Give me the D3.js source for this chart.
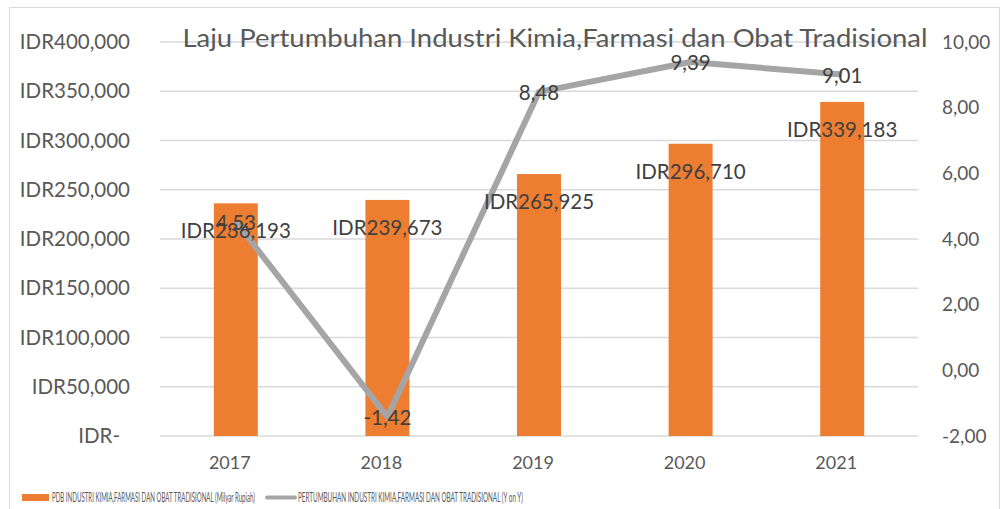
<!DOCTYPE html>
<html>
<head>
<meta charset="utf-8">
<script src="https://cdn.jsdelivr.net/npm/d3@7"></script>
<style>
  body { margin: 0; background: #fff; }
  svg text { font-family: Lato, "Open Sans", sans-serif; }
</style>
</head>
<body>
<svg id="chart" width="1002" height="509"></svg>
<script>
"use strict";

// data
const years      = [ '2017', '2018', '2019', '2020', '2021' ];
const pdbValues  = [ 236193, 239673, 265925, 296710, 339183 ];
const growth     = [ 4.53, -1.42, 8.48, 9.39, 9.01 ];
const leftTicks  = [ 0, 50000, 100000, 150000, 200000, 250000, 300000, 350000, 400000 ];
const rightTicks = [ -2, 0, 2, 4, 6, 8, 10 ];

const title      = 'Laju Pertumbuhan Industri Kimia,Farmasi dan Obat Tradisional';
const barName    = 'PDB INDUSTRI KIMIA,FARMASI DAN OBAT TRADISIONAL (Milyar Rupiah)';
const lineName   = 'PERTUMBUHAN INDUSTRI KIMIA,FARMASI DAN OBAT TRADISIONAL (Y on Y)';

const orange = '#ED7D31',
      grey   = '#A5A5A5',
      grid   = '#D9D9D9',
      txt    = '#595959',
      lbl    = '#404040';

// plot area
const plot = { left: 160, right: 918, top: 42, bottom: 436 };

const svg = d3.select('#chart');

// outer frame
svg.append('rect')
    .attr('x', 9.5).attr('y', 7.5)
    .attr('width', 990).attr('height', 520)
    .attr('fill', 'none')
    .attr('stroke', grid);

// scales
const x = d3.scaleBand()
    .domain(years)
    .range([plot.left, plot.right])
    .paddingInner(0.71)
    .paddingOuter(0.355);

const xc = d3.scaleBand().domain(years).range([plot.left, plot.right]);

const y = d3.scaleLinear()
    .domain([0, 400000])
    .range([plot.bottom, plot.top]);

const y2 = d3.scaleLinear()
    .domain([-2, 10])
    .range([plot.bottom, plot.top]);

const idr = (v) => v === 0 ? 'IDR-' : 'IDR' + d3.format(',')(v);
const comma2 = (v) => d3.format('.2f')(v).replace('.', ',').replace('−', '-');

// gridlines
svg.append('g')
  .selectAll('line')
    .data(leftTicks)
  .enter().append('line')
    .attr('x1', plot.left).attr('x2', plot.right)
    .attr('y1', (d) => y(d)).attr('y2', (d) => y(d))
    .attr('stroke', grid)
    .attr('stroke-width', 1.5);

// left axis
const yAxis = d3.axisLeft(y).tickValues(leftTicks).tickSize(0).tickPadding(0).tickFormat(idr);
const gl = svg.append('g')
    .attr('transform', 'translate(130,0)')
    .call(yAxis);
gl.select('.domain').remove();
gl.selectAll('text')
    .attr('fill', txt)
    .style('font-size', '20.5px')
    .attr('dx', (d) => d === 0 ? -10 : 0);

// right axis
const y2Axis = d3.axisRight(y2).tickValues(rightTicks).tickSize(0).tickPadding(0).tickFormat(comma2);
const gr = svg.append('g')
    .attr('transform', 'translate(942,0)')
    .call(y2Axis);
gr.select('.domain').remove();
gr.selectAll('text')
    .attr('fill', txt)
    .style('font-size', '19px');

// x axis
const xAxis = d3.axisBottom(xc).tickSize(0).tickPadding(0);
const gx = svg.append('g')
    .attr('transform', 'translate(0,' + (plot.bottom + 20) + ')')
    .call(xAxis);
gx.select('.domain').remove();
gx.selectAll('text')
    .attr('fill', txt)
    .attr('dx', -6)
    .style('font-size', '18px');

// title
svg.append('text')
    .attr('x', 555).attr('y', 47)
    .attr('text-anchor', 'middle')
    .attr('fill', txt)
    .style('font-size', '25px')
    .attr('textLength', 745)
    .attr('lengthAdjust', 'spacingAndGlyphs')
    .text(title);

// bars
svg.append('g')
  .selectAll('rect')
    .data(pdbValues)
  .enter().append('rect')
    .attr('x', (d, i) => x(years[i]))
    .attr('width', x.bandwidth())
    .attr('y', (d) => y(d))
    .attr('height', (d) => plot.bottom - y(d))
    .attr('fill', orange);

// line
const line = d3.line()
    .x((d, i) => xc(years[i]) + xc.bandwidth() / 2)
    .y((d) => y2(d));

svg.append('path')
    .datum(growth)
    .attr('d', line)
    .attr('fill', 'none')
    .attr('stroke', grey)
    .attr('stroke-width', 6)
    .attr('stroke-linejoin', 'round');

// bar labels
svg.append('g')
  .selectAll('text')
    .data(pdbValues)
  .enter().append('text')
    .attr('x', (d, i) => xc(years[i]) + xc.bandwidth() / 2)
    .attr('y', (d) => y(d) + 35)
    .attr('text-anchor', 'middle')
    .attr('fill', lbl)
    .style('font-size', '20.5px')
    .text(idr);

// line labels
svg.append('g')
  .selectAll('text')
    .data(growth)
  .enter().append('text')
    .attr('x', (d, i) => xc(years[i]) + xc.bandwidth() / 2)
    .attr('y', (d) => y2(d) + 8)
    .attr('text-anchor', 'middle')
    .attr('fill', lbl)
    .style('font-size', '20.5px')
    .text(comma2);

// legend
svg.append('rect')
    .attr('x', 22).attr('y', 494)
    .attr('width', 27).attr('height', 7)
    .attr('fill', orange);
svg.append('text')
    .attr('x', 52).attr('y', 502)
    .attr('fill', txt)
    .style('font-size', '13px')
    .attr('textLength', 203)
    .attr('lengthAdjust', 'spacingAndGlyphs')
    .text(barName);

svg.append('line')
    .attr('x1', 267).attr('x2', 295)
    .attr('y1', 497.5).attr('y2', 497.5)
    .attr('stroke', grey)
    .attr('stroke-width', 4)
    .attr('stroke-linecap', 'round');
svg.append('text')
    .attr('x', 298).attr('y', 502)
    .attr('fill', txt)
    .style('font-size', '13px')
    .attr('textLength', 225)
    .attr('lengthAdjust', 'spacingAndGlyphs')
    .text(lineName);
</script>
</body>
</html>
